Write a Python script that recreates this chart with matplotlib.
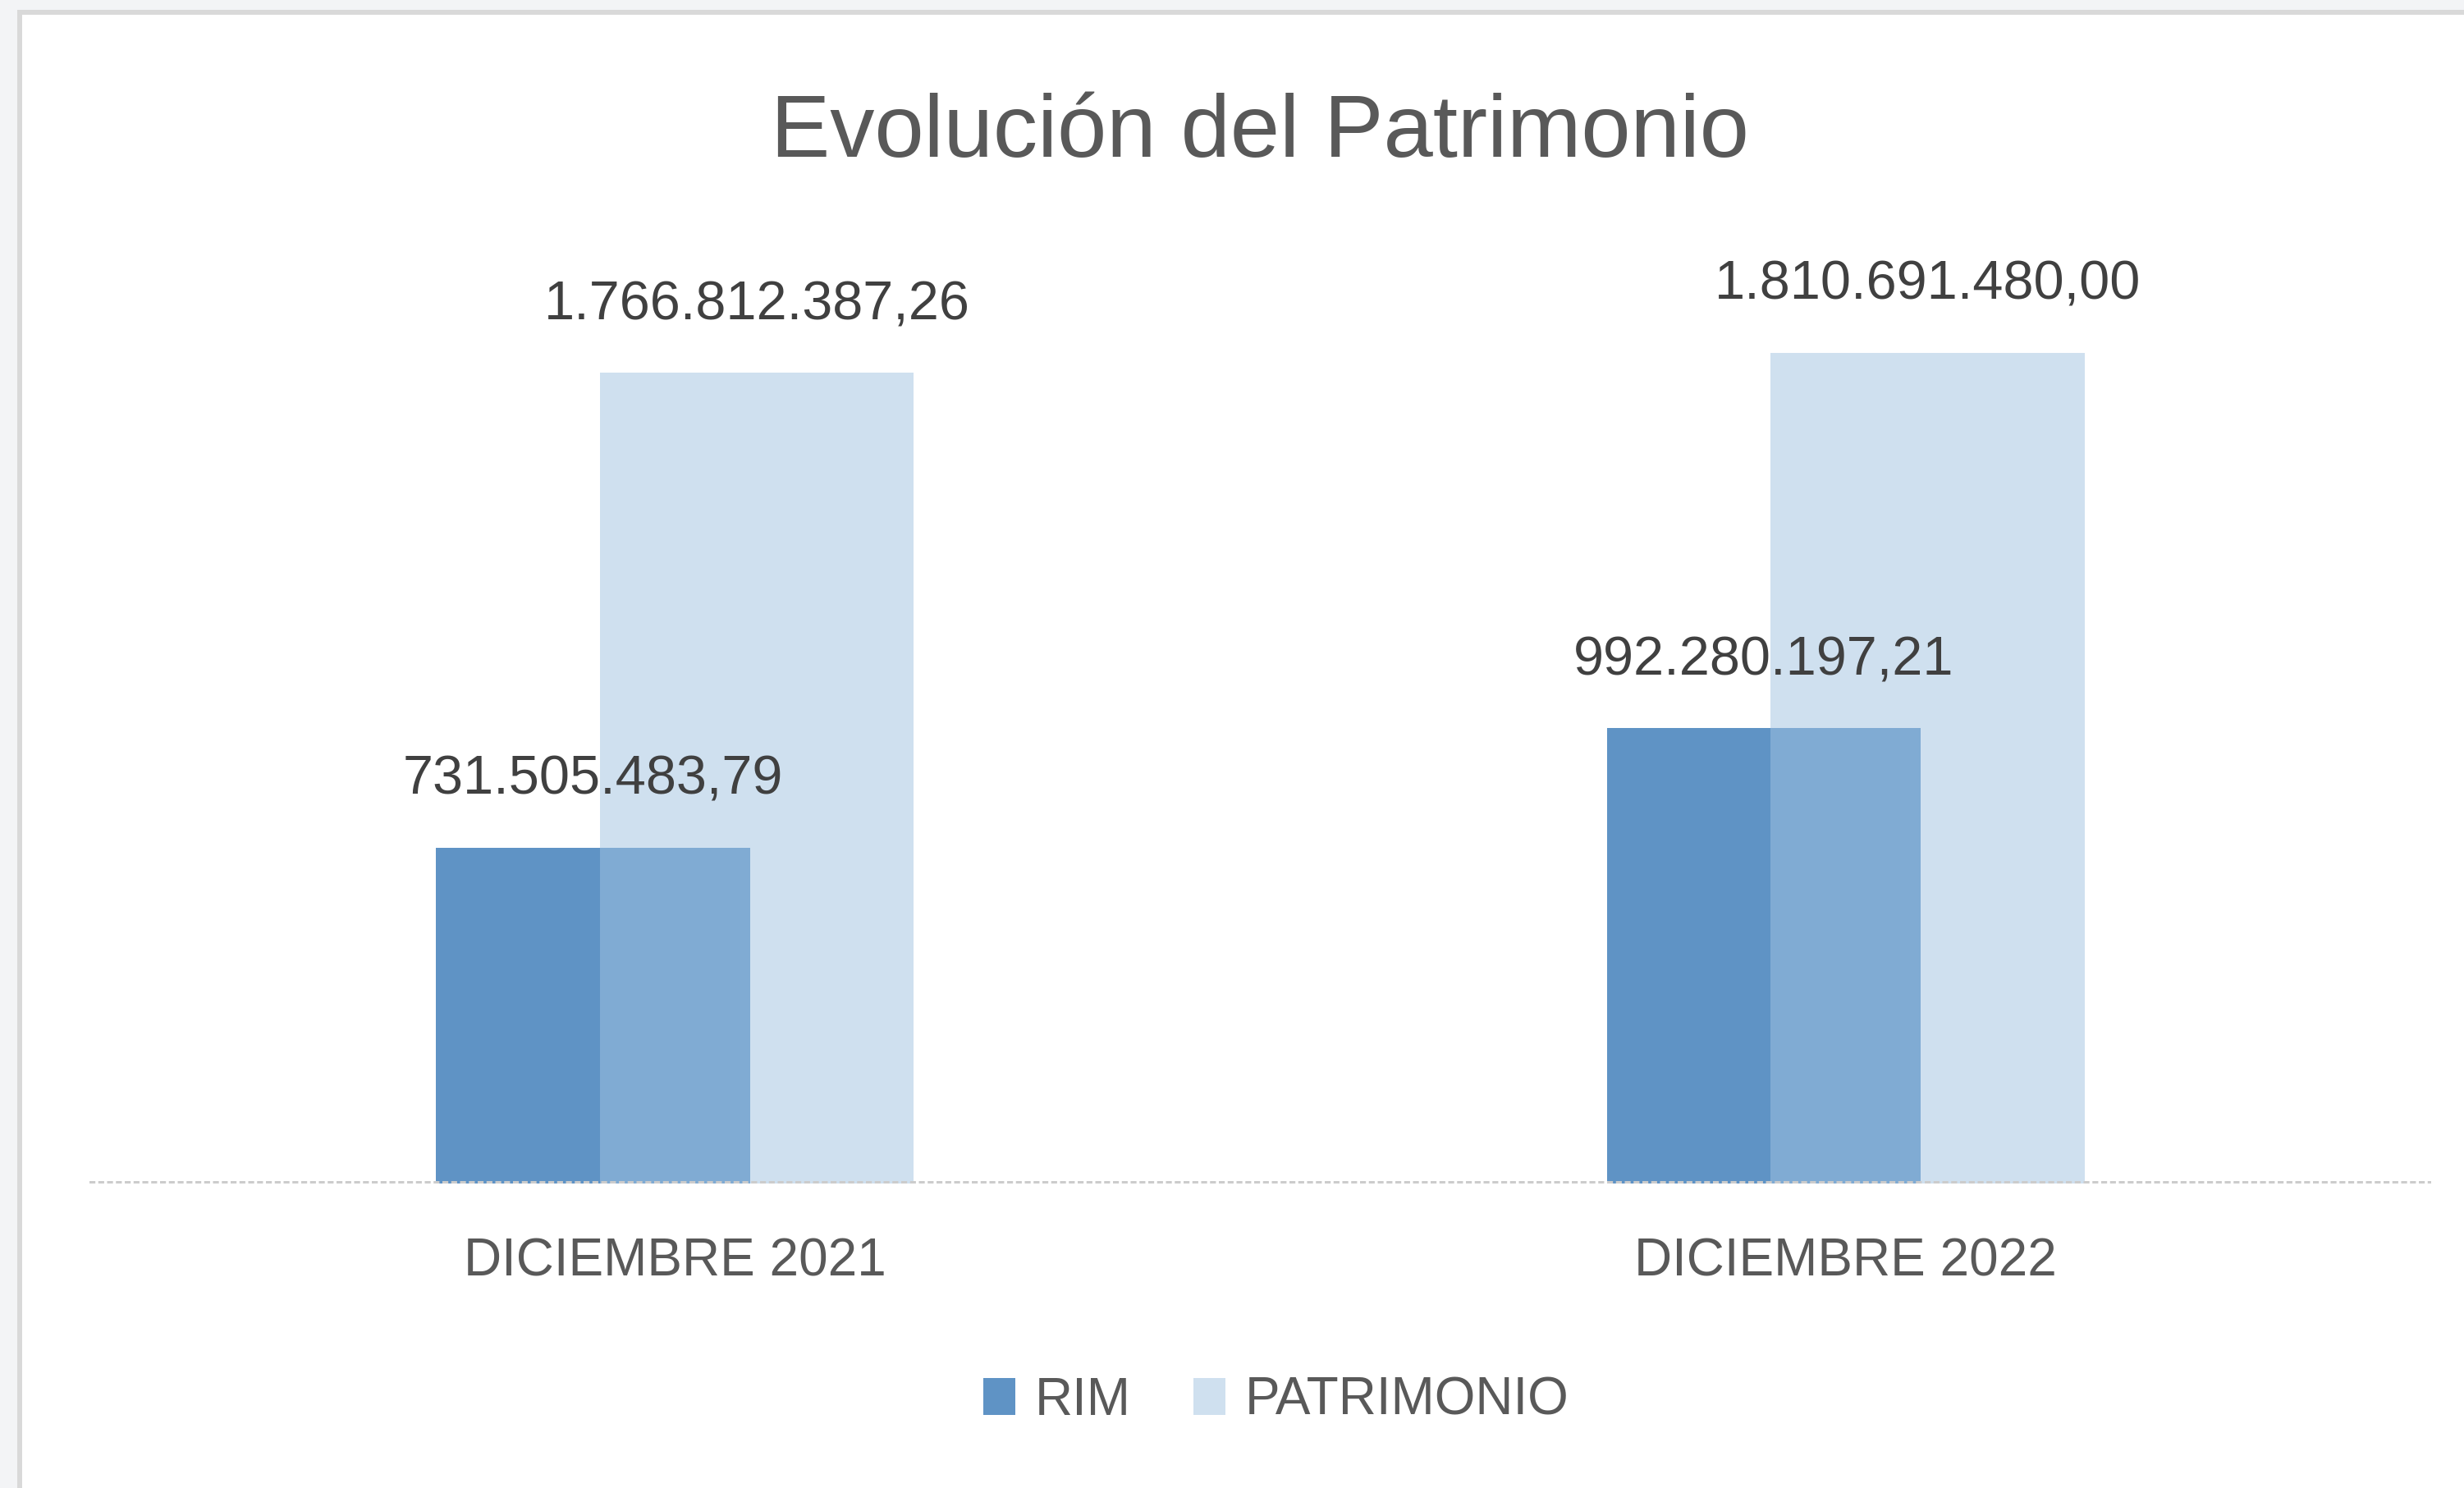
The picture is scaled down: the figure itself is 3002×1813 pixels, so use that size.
import matplotlib.pyplot as plt
from matplotlib.patches import Rectangle

# Data
categorias = ["DICIEMBRE 2021", "DICIEMBRE 2022"]
rim = [731505483.79, 992280197.21]
patrimonio = [1766812387.26, 1810691480.00]
series_names = ["RIM", "PATRIMONIO"]

plt.rcParams["font.family"] = ["Liberation Sans", "DejaVu Sans"]

W, H = 3002, 1813
fig = plt.figure(figsize=(W / 100, H / 100), dpi=100)
fig.patch.set_facecolor("#F3F4F6")

# white chart area with grey border (cropped at right / bottom)
fig.add_artist(Rectangle((24 / W, -60 / H), 3100 / W, (H - 15 + 60) / H,
                         transform=fig.transFigure, facecolor="white",
                         edgecolor="#D9D9D9", linewidth=4.3, zorder=0))

ax = fig.add_axes([109 / W, 371 / H, 2853 / W, 1118 / H])
ax.set_facecolor("none")

x = range(len(categorias))
off, bw = 0.07, 0.268
bars_rim = ax.bar([i - off for i in x], rim, width=bw, color="#5F93C5",
                  label=series_names[0], zorder=2)
bars_pat = ax.bar([i + off for i in x], patrimonio, width=bw, color="#A1C3E1",
                  alpha=0.5, label=series_names[1], zorder=3)

def fmt(v):
    s = f"{v:,.2f}"
    return s.replace(",", "X").replace(".", ",").replace("X", ".")

for bars, vals in ((bars_rim, rim), (bars_pat, patrimonio)):
    for b, v in zip(bars, vals):
        ax.annotate(fmt(v), (b.get_x() + b.get_width() / 2, v),
                    xytext=(0, 47), textcoords="offset points",
                    ha="center", va="baseline", fontsize=48,
                    color="#404040", zorder=5)

ax.axhline(0, color="#CCCCCC", linewidth=4.3, linestyle=(0, (1.2, 0.6)),
           zorder=4)

ax.set_xlim(-0.5, 1.5)
ax.set_ylim(0, 2_000_000_000)
ax.set_xticks(list(x))
ax.set_xticklabels(categorias, fontsize=46, color="#595959")
ax.tick_params(axis="x", length=0, pad=47)
ax.set_yticks([])
for sp in ax.spines.values():
    sp.set_visible(False)

fig.text(1535 / W, 1 - 191 / H, "Evolución del Patrimonio", ha="center",
         va="baseline", fontsize=78, color="#595959")

fig.legend(handles=[bars_rim, bars_pat], labels=series_names, loc="center",
           bbox_to_anchor=(1555 / W, 1 - 1707 / H), ncol=2, frameon=False,
           fontsize=46, labelcolor="#595959", handlelength=0.6,
           handleheight=0.7, handletextpad=0.38, columnspacing=1.2)

fig.savefig("out.png", dpi=100, facecolor=fig.get_facecolor())
